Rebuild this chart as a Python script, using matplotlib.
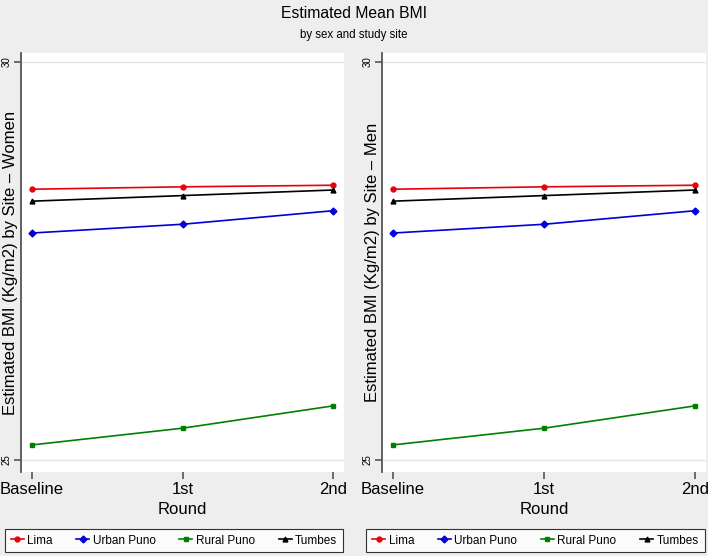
import matplotlib.pyplot as plt

plt.rcParams['font.family'] = ['Liberation Sans', 'DejaVu Sans']

rounds = ['Baseline', '1st', '2nd']
sites = ['Lima', 'Urban Puno', 'Rural Puno', 'Tumbes']

# estimated mean BMI per site
women_lima = [28.40, 28.43, 28.45]
women_urban_puno = [27.85, 27.96, 28.13]
women_rural_puno = [25.19, 25.40, 25.68]
women_tumbes = [28.25, 28.32, 28.39]

men_lima = [28.40, 28.43, 28.45]
men_urban_puno = [27.85, 27.96, 28.13]
men_rural_puno = [25.19, 25.40, 25.68]
men_tumbes = [28.25, 28.32, 28.39]

colors = ['#e8000b', '#0000d8', '#008000', 'black']
markers = ['o', 'D', 's', '^']
bg = '#eeeeee'

fig = plt.figure(figsize=(7.08, 5.56), dpi=100, facecolor=bg)

fig.text(0.5, 1 - 13 / 556, 'Estimated Mean BMI', ha='center', va='center', fontsize=11.3)
fig.text(0.5, 1 - 35 / 556, 'by sex and study site', ha='center', va='center', fontsize=8.3)

panels = [
    (21, 344, 11, 'Women', [women_lima, women_urban_puno, women_rural_puno, women_tumbes]),
    (382, 706, 372, 'Men', [men_lima, men_urban_puno, men_rural_puno, men_tumbes]),
]

for x0, x1, label_x, sex, series in panels:
    ax = fig.add_axes([x0 / 708, 1 - 472 / 556, (x1 - x0) / 708, (472 - 53) / 556])
    ax.set_facecolor('white')
    x = range(len(rounds))
    for vals, name, c, m in zip(series, sites, colors, markers):
        ax.plot(x, vals, color=c, marker=m, markersize=3.5, linewidth=1.2, label=name)
    ax.set_xlim(-0.073, 2.073)
    ax.set_ylim(24.85, 30.11)
    ax.set_yticks([25, 30])
    ax.set_yticklabels(['25', '30'], rotation=90, va='center', fontsize=7)
    ax.set_xticks(list(x))
    ax.set_xticklabels(rounds, fontsize=12)
    ax.set_xlabel('Round', fontsize=12, labelpad=4)
    ax.set_ylabel('Estimated BMI (Kg/m2) by Site \u2013 ' + sex, fontsize=12, va='center')
    ax.yaxis.set_label_coords((label_x - x0) / (x1 - x0), 0.5)
    ax.grid(axis='y', color='#e4e4e4', linewidth=1)
    ax.set_axisbelow(True)
    for s in ['top', 'right', 'bottom']:
        ax.spines[s].set_visible(False)
    ax.spines['left'].set_color('#555555')
    ax.spines['left'].set_linewidth(1.3)
    ax.tick_params(axis='both', color='#555555', width=1.2, length=5, pad=2)
    leg = ax.legend(loc='center', bbox_to_anchor=((x0 - 17 + x1) / 2 / 708, 1 - 540.5 / 556),
                    bbox_transform=fig.transFigure, ncol=4, fontsize=8.5, frameon=True,
                    fancybox=False, handlelength=1.1, handletextpad=0.3, columnspacing=2.0,
                    borderpad=0.5)
    leg.get_frame().set_edgecolor('black')
    leg.get_frame().set_linewidth(0.8)

fig.savefig('out.png', dpi=100, facecolor=bg)
